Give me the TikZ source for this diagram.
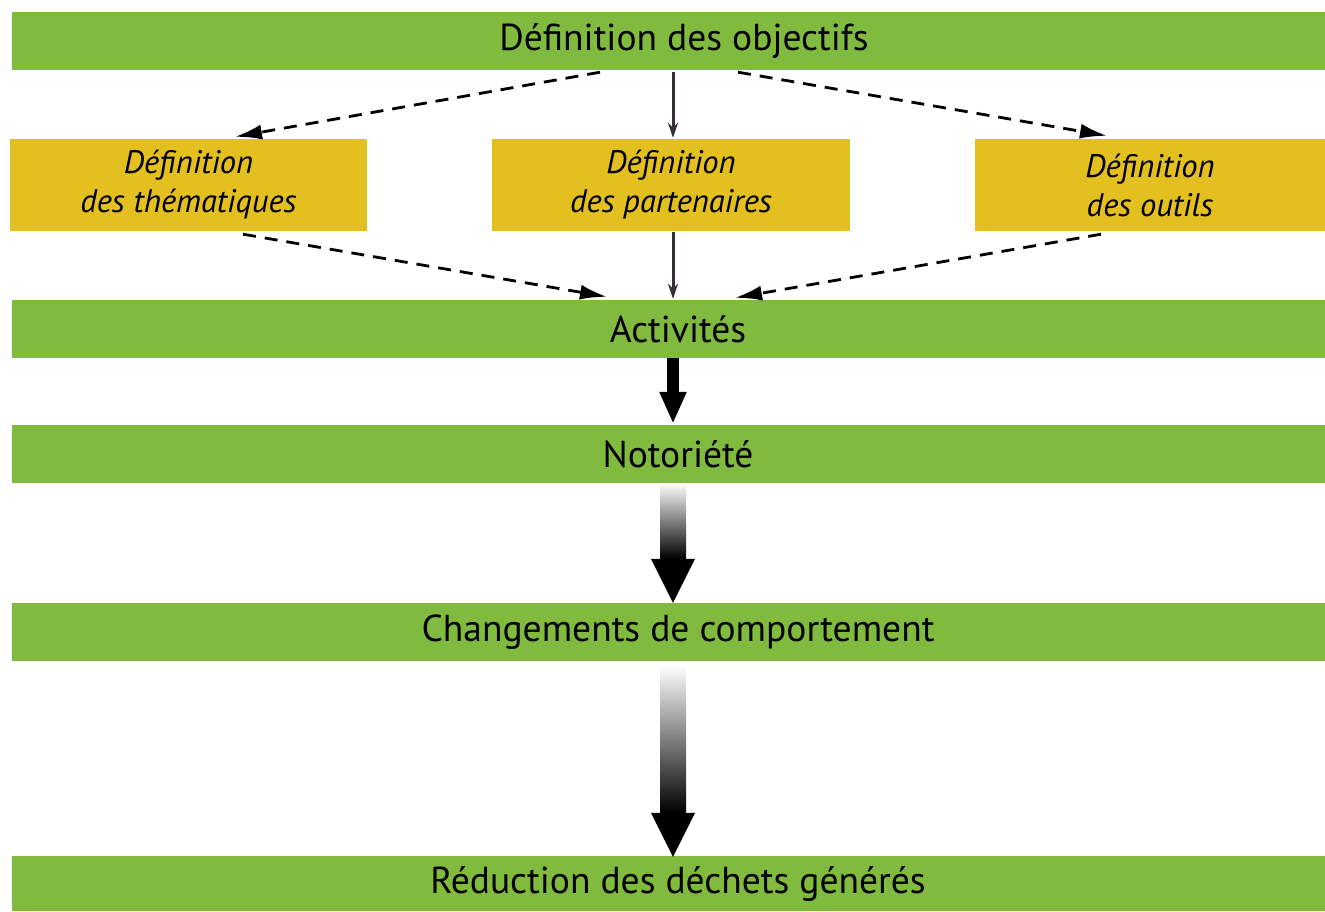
\documentclass[tikz,border=0pt]{standalone}
\usepackage{fontspec}
\setmainfont{PT Sans}
\usetikzlibrary{positioning, arrows.meta, calc}
\definecolor{barGreen}{RGB}{128,187,63}
\definecolor{boxYellow}{RGB}{227,191,32}
\definecolor{linkGrey}{RGB}{55,46,58}
\tikzset{
  bar/.style={fill=barGreen, minimum width=1332pt, minimum height=58pt, inner sep=0pt, font=\fontsize{37.5}{40}\selectfont},
  theme/.style={fill=boxYellow, minimum height=92pt, inner sep=0pt, align=center, font=\fontsize{32.6}{39}\selectfont\itshape},
  darr/.style={-{Latex[length=27pt, width=15pt]}, line width=2.8pt, dash pattern=on 13pt off 9pt},
  tarr/.style={-{Stealth[length=15pt, width=10pt]}, line width=3pt, draw=linkGrey},
  bigarr/.style={-{Triangle[length=32pt, width=25pt]}, line width=12pt},
  fade/.style={top color=white, bottom color=black}
}
\begin{document}
\begin{tikzpicture}[x=1pt, y=-1pt]
\useasboundingbox (0,0) rectangle (1325,911);
\node[bar, minimum width=1344pt] (objectifs) at (684,41) {Définition des objectifs};
\node[theme, minimum width=357pt] (thematiques) at (188.5,185) {Définition\\des thématiques};
\node[theme, minimum width=358pt] (partenaires) at (671,185) {Définition\\des partenaires};
\node[theme, minimum width=350pt] (outils) at (1150,185) {Définition\\des outils};
\node[bar] (activites) at (678,329) {Activités};
\node[bar] (notoriete) at (678,454) {Notoriété};
\node[bar] (changements) at (678,632) {Changements de comportement};
\node[bar, minimum height=55pt] (reduction) at (678,883.5) {Réduction des déchets générés};
\draw[darr] ($(objectifs.south)+(-84,2)$) -- ($(thematiques.north)+(46.5,-2)$);
\draw[tarr] ($(objectifs.south)+(-11,2)$) -- ($(partenaires.north)+(2,-1)$);
\draw[darr] ($(objectifs.south)+(54,2)$) -- ($(outils.north)+(-43,-3)$);
\draw[darr] ($(thematiques.south)+(54.5,3)$) -- ($(activites.north)+(-71,-3)$);
\draw[tarr] ($(partenaires.south)+(2,1)$) -- ($(activites.north)+(-5,-1)$);
\draw[darr] ($(outils.south)+(-49,3)$) -- ($(activites.north)+(57,-2)$);
\draw[bigarr] ($(activites.south)+(-5,0)$) -- ($(notoriete.north)+(-5,-1)$);
\shade[fade] ($(notoriete.south)+(-18,0)$) rectangle ($(changements.north)+(8,-44)$);
\fill ($(changements.north)+(-27,-44)$) -- ($(changements.north)+(17,-44)$) -- ($(changements.north)+(-5,0)$) -- cycle;
\shade[fade] ($(changements.south)+(-18,4)$) rectangle ($(reduction.north)+(8,-43)$);
\fill ($(reduction.north)+(-27,-43)$) -- ($(reduction.north)+(17,-43)$) -- ($(reduction.north)+(-5,1)$) -- cycle;
\end{tikzpicture}
\end{document}
